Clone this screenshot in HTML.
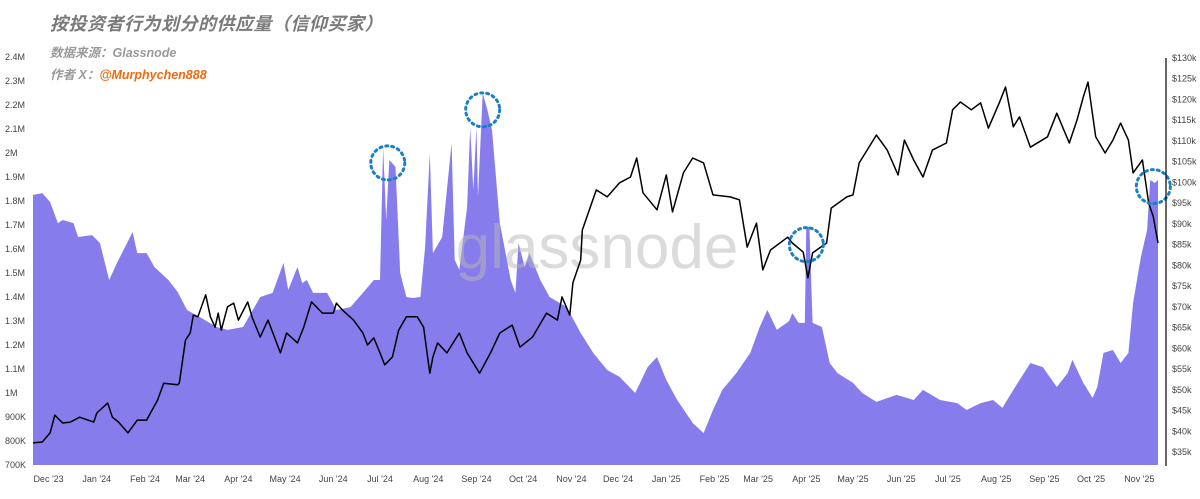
<!DOCTYPE html>
<html><head><meta charset="utf-8">
<style>
html,body{margin:0;padding:0;background:#fff;width:1200px;height:499px;overflow:hidden;font-family:"Liberation Sans","Noto Sans CJK SC",sans-serif}
#title{position:absolute;left:50px;top:10px;font-size:18px;font-weight:bold;font-style:italic;color:#7a7a7a;letter-spacing:0.5px}
.sub{position:absolute;left:50px;font-size:12.5px;font-weight:bold;font-style:italic;color:#9a9a9a}
.sub b{color:#f26a10}
svg{position:absolute;left:0;top:0}
</style></head><body>
<div id="title">按投资者行为划分的供应量（信仰买家）</div>
<div class="sub" style="top:42px">数据来源：Glassnode</div>
<div class="sub" style="top:64px">作者 X：<b>@Murphychen888</b></div>
<svg id="chart" width="1200" height="499"></svg>
<script>
const supplyDays=[0,6,11,16,19,26,29,38,43,49,54,64,67,73,78,87,93,99,107,118,125,135,146,154,161,164,170,173,176,180,189,195,204,212,219,223,225,227,229,233,236,240,244,249,252,255,257,263,269,271,274,279,281,283,285,286,289,292,295,297,300,307,310,312,316,319,326,332,343,352,360,369,377,387,395,401,407,414,424,431,437,443,452,461,467,472,478,486,488,492,496,497,499,501,507,512,517,527,533,542,555,566,572,583,594,600,609,617,623,630,641,649,658,665,668,675,681,684,688,694,699,704,707,712,716,718,721,723];
const supplyK=[1825,1833,1796,1708,1721,1708,1650,1658,1625,1471,1542,1671,1583,1583,1525,1471,1421,1346,1317,1275,1263,1275,1400,1417,1542,1429,1525,1458,1471,1417,1417,1346,1358,1417,1471,1471,2025,1721,1971,1942,1500,1400,1396,1400,1608,2000,1583,1650,2042,1554,1513,1775,2108,1846,2108,1817,2250,2179,2096,1942,1708,1471,1417,1625,1525,1583,1471,1400,1358,1250,1167,1096,1067,1000,1108,1150,1054,971,875,833,929,1013,1083,1167,1275,1346,1263,1300,1333,1292,1292,1692,1692,1292,1275,1125,1083,1042,1000,963,992,971,1013,971,958,929,958,971,938,1013,1125,1108,1025,1083,1138,1042,979,1025,1167,1179,1125,1167,1375,1567,1679,1888,1875,1888];
const priceDays=[0,6,11,14,19,24,30,39,41,48,51,55,61,67,73,80,84,93,94,98,101,103,106,111,114,117,119,121,125,129,132,138,141,146,151,159,163,170,174,179,186,193,195,199,206,212,215,219,223,226,231,235,240,247,251,255,257,260,266,274,279,287,294,300,308,313,321,330,337,340,345,347,352,353,362,369,377,384,388,392,401,407,411,418,424,431,437,448,454,459,465,469,474,485,488,495,498,501,510,513,523,527,531,542,549,556,560,566,572,578,587,591,596,603,609,614,621,625,630,634,641,652,658,666,671,675,678,683,689,694,699,704,707,713,717,720,723];
const priceK=[37.2,37.4,39.6,43.9,42.0,42.2,43.4,42.2,44.4,46.8,43.4,42.2,39.6,42.7,42.7,47.5,51.6,51.2,51.6,62.0,63.7,68.0,67.6,72.9,67.6,65.1,68.5,64.4,70.0,70.9,66.8,71.2,67.3,62.7,66.8,58.9,63.7,61.3,65.1,71.2,68.5,68.5,70.9,69.2,66.8,63.7,60.8,62.5,58.9,56.0,57.9,64.4,67.6,67.6,65.1,54.0,57.9,61.3,58.9,63.7,58.9,54.0,58.9,63.7,65.6,60.3,62.7,68.5,66.8,72.4,68.0,75.8,81.3,88.5,98.2,96.5,99.9,101.3,105.9,97.5,93.4,101.8,92.9,102.3,105.9,104.7,97.0,96.5,95.8,84.4,90.2,78.9,83.7,86.8,85.4,83.2,77.0,83.0,85.4,93.8,96.5,97.0,104.7,111.4,107.8,101.8,110.2,105.4,101.3,107.8,109.5,117.5,119.4,117.5,119.2,113.1,119.2,123.0,113.4,115.8,108.5,111.0,116.7,109.5,115.1,120.6,124.2,111.0,107.1,110.2,114.3,110.2,102.3,105.4,95.0,91.7,85.4];
const leftTicks=["700K","800K","900K","1M","1.1M","1.2M","1.3M","1.4M","1.5M","1.6M","1.7M","1.8M","1.9M","2M","2.1M","2.2M","2.3M","2.4M"];
const leftTickVals=[700,800,900,1000,1100,1200,1300,1400,1500,1600,1700,1800,1900,2000,2100,2200,2300,2400];
const rightTickVals=[35,40,45,50,55,60,65,70,75,80,85,90,95,100,105,110,115,120,125,130];
const monthLabels=["Dec '23","Jan '24","Feb '24","Mar '24","Apr '24","May '24","Jun '24","Jul '24","Aug '24","Sep '24","Oct '24","Nov '24","Dec '24","Jan '25","Feb '25","Mar '25","Apr '25","May '25","Jun '25","Jul '25","Aug '25","Sep '25","Oct '25","Nov '25"];
const monthDays=[10,41,72,101,132,162,193,223,254,285,315,346,376,407,438,466,497,527,558,588,619,650,680,711];
const circleDays=[228,289,497,720];
const circlePrice=[104.7,117.5,85,99];

const NS="http://www.w3.org/2000/svg";
const svg=document.getElementById('chart');
const X=d=>33+d*1.556;
const YS=v=>465-(v-700)*0.24;
const YP=p=>452-(p-35)*394/95;
function mk(t,a){const e=document.createElementNS(NS,t);for(const k in a)e.setAttribute(k,a[k]);svg.appendChild(e);return e;}

// area
let d='M'+X(supplyDays[0])+',465';
supplyDays.forEach((dd,i)=>{d+=' L'+X(dd).toFixed(1)+','+YS(supplyK[i]).toFixed(1);});
d+=' L'+X(supplyDays[supplyDays.length-1])+',465 Z';
const area=mk('path',{d:d,fill:'#877ceb'});



// watermark
const wm=mk('text',{x:597,y:268,'text-anchor':'middle','font-size':62,fill:'#b8b8b8','fill-opacity':0.5,'font-family':'Liberation Sans, sans-serif'});
wm.textContent='glassnode';



// price line
let pd='';
priceDays.forEach((dd,i)=>{pd+=(i?' L':'M')+X(dd).toFixed(1)+','+YP(priceK[i]).toFixed(1);});
const line=mk('path',{d:pd,fill:'none',stroke:'#000','stroke-width':1.5,'stroke-linejoin':'round'});



// circles
circleDays.forEach((cd,i)=>{
  const c=mk('circle',{cx:X(cd),cy:YP(circlePrice[i]),r:17,fill:'none',stroke:'#1a7fc4','stroke-width':3,'stroke-dasharray':'2 4','stroke-linecap':'round'});
  
  
});

// left axis labels
leftTickVals.forEach((v,i)=>{
  const t=mk('text',{x:5,y:YS(v)+3,'font-size':9,fill:'#444'});
  t.textContent=leftTicks[i];
  
  
});
// right axis
const ax=mk('line',{x1:1166,y1:58,x2:1166,y2:466,stroke:'#000','stroke-width':1.2});


rightTickVals.forEach(v=>{
  const t=mk('text',{x:1172,y:YP(v)+3,'font-size':9,fill:'#444'});
  t.textContent='$'+v+'k';
  
  
});
// bottom labels
monthDays.forEach((md,i)=>{
  const t=mk('text',{x:X(md),y:482,'font-size':9,fill:'#444','text-anchor':'middle'});
  t.textContent=monthLabels[i];
  
  
});
</script>
</body></html>
